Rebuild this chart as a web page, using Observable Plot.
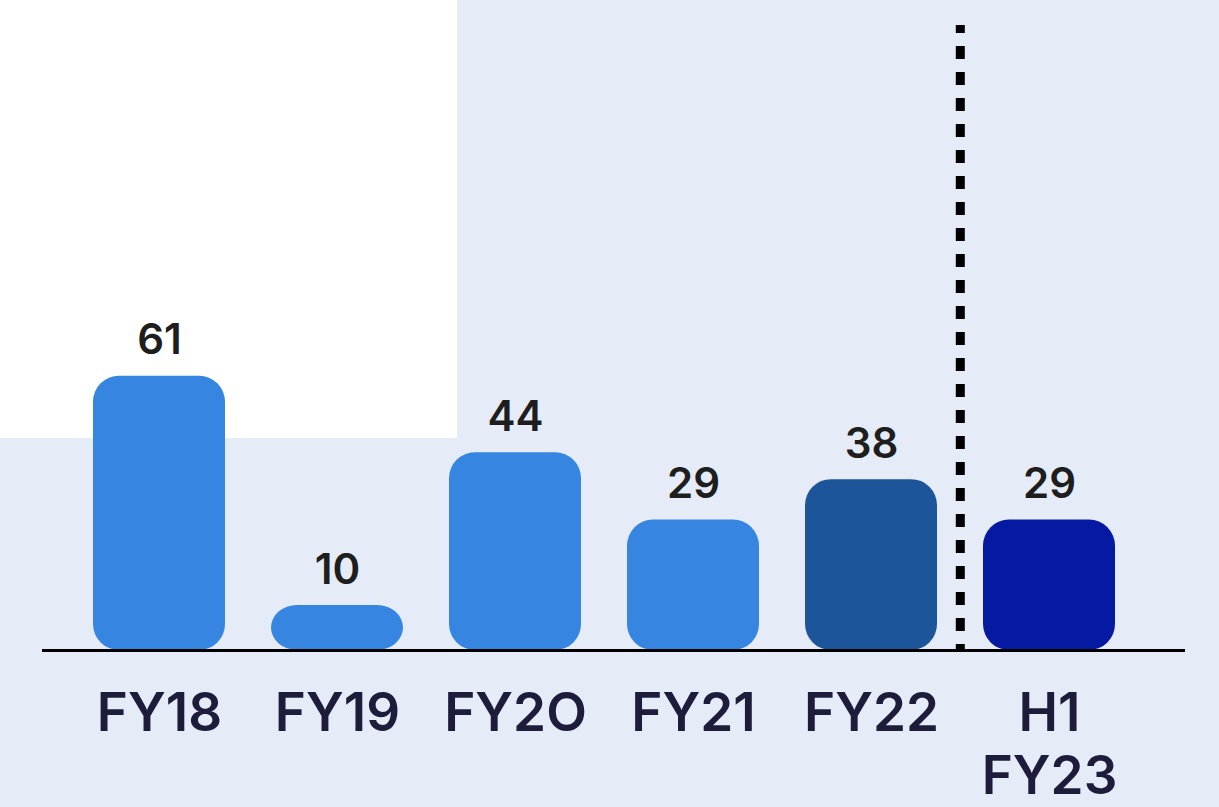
<!DOCTYPE html>
<html>
<head>
<meta charset="utf-8">
<script src="https://cdn.jsdelivr.net/npm/d3@7"></script>
<script src="https://cdn.jsdelivr.net/npm/@observablehq/plot@0.6"></script>
<style>
  html, body { margin: 0; padding: 0; background: #e5ecf7; }
  #wrap { position: relative; width: 1219px; height: 807px; overflow: hidden; background: #e5ecf7; }
  #white { position: absolute; left: 0; top: 0; width: 457px; height: 438px; background: #ffffff; }
  #chart { position: absolute; left: 0; top: 0; }
  #chart svg { background: transparent; }
</style>
</head>
<body>
<div id="wrap"><div id="white"></div><div id="chart"></div></div>
<script>
const categories = ["FY18", "FY19", "FY2O", "FY21", "FY22", "H1\nFY23"];
const values = [61, 10, 44, 29, 38, 29];
const barColors = ["#3585e1", "#3585e1", "#3585e1", "#3585e1", "#1c5599", "#0519a2"];
const dividerBefore = ["H1\nFY23"];

const data = categories.map((c, i) => ({cat: c, value: values[i], color: barColors[i]}));

const W = 1219, H = 807;
const mL = 45.6, mR = 56.6, mT = 25, mB = 157;
const pad = 0.26;
const step = (W - mL - mR) / (categories.length - pad + 2 * pad);

const font = "Inter, 'Noto Sans', sans-serif";

const chart = Plot.plot({
  width: W,
  height: H,
  marginLeft: mL,
  marginRight: mR,
  marginTop: mT,
  marginBottom: mB,
  style: {background: "transparent", fontFamily: font, color: "#1d1d3b", overflow: "visible"},
  x: {domain: categories, padding: pad, label: null},
  y: {domain: [0, 139], axis: null},
  marks: [
    Plot.barY(data, {x: "cat", y: "value", fill: "color", rx: 26}),
    Plot.ruleY([0], {stroke: "#000", strokeWidth: 3, insetLeft: -3.6, insetRight: -22.6}),
    Plot.ruleX(dividerBefore, {x: d => d, dx: -step / 2, stroke: "#000", strokeWidth: 9, strokeDasharray: "13,13", strokeDashoffset: 5}),
    Plot.text(data, {x: "cat", y: "value", text: d => String(d.value), lineAnchor: "bottom", dy: -22, fontSize: 42, fontWeight: 600, fill: "#1e1e1e", fontFamily: font}),
    Plot.axisX({tickSize: 0, tickPadding: 35, fontSize: 53, fontWeight: 600, lineHeight: 1.2, fill: "#1d1d3b", fontFamily: font, label: null})
  ]
});
document.getElementById("chart").appendChild(chart);
</script>
</body>
</html>
